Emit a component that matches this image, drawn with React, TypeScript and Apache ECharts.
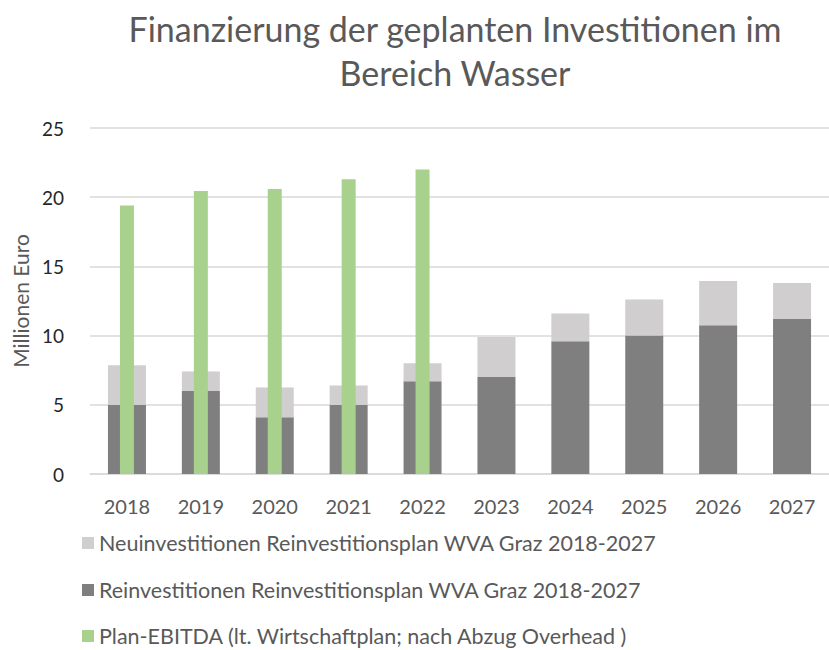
import React, { useEffect, useRef } from "react";
import * as echarts from "echarts";

const categories = ["2018", "2019", "2020", "2021", "2022", "2023", "2024", "2025", "2026", "2027"];
const reinvestitionen = [5.0, 6.0, 4.1, 5.0, 6.7, 7.0, 9.6, 10.0, 10.75, 11.2];
const neuinvestitionen = [2.85, 1.4, 2.15, 1.4, 1.3, 2.9, 2.0, 2.6, 3.2, 2.6];
const planEbitda: (number | null)[] = [19.4, 20.45, 20.6, 21.3, 22.0, null, null, null, null, null];

const seriesNames = [
  "Neuinvestitionen Reinvestitionsplan WVA Graz 2018-2027",
  "Reinvestitionen Reinvestitionsplan WVA Graz 2018-2027",
  "Plan-EBITDA (lt. Wirtschaftplan; nach Abzug Overhead )",
];

const FONT = "Lato, 'DejaVu Sans', sans-serif";
const legendTops = [531, 578, 624];

export default function App() {
  const ref = useRef<HTMLDivElement>(null);
  useEffect(() => {
    document.body.style.margin = "0";
    if (!ref.current) return;
    const chart = echarts.init(ref.current, null, { renderer: "svg" });
    chart.setOption({
      animation: false,
      backgroundColor: "#ffffff",
      title: {
        text: "Finanzierung der geplanten Investitionen im\nBereich Wasser",
        left: 450,
        textAlign: "center",
        top: 1,
        textStyle: {
          fontFamily: FONT,
          fontSize: 34,
          lineHeight: 44,
          fontWeight: "normal",
          color: "#595959",
        },
      },
      legend: seriesNames.map((name, i) => ({
        orient: "vertical",
        left: 82,
        top: legendTops[i],
        padding: 0,
        itemWidth: 12,
        itemHeight: 12,
        icon: "rect",
        data: [name],
        textStyle: {
          fontFamily: FONT,
          fontSize: 21.5,
          lineHeight: 24,
          color: "#595959",
        },
      })),
      grid: {
        left: 90,
        top: 128,
        width: 745,
        height: 346,
        containLabel: false,
      },
      xAxis: [
        {
          type: "category",
          data: categories,
          axisLine: { lineStyle: { color: "#d9d9d9", width: 1.5 } },
          axisTick: { show: false },
          axisLabel: {
            fontFamily: FONT,
            fontSize: 20,
            color: "#595959",
            margin: 22,
          },
        },
        {
          type: "category",
          data: categories,
          show: false,
        },
      ],
      yAxis: {
        type: "value",
        min: 0,
        max: 25,
        interval: 5,
        name: "Millionen Euro",
        nameLocation: "middle",
        nameGap: 58,
        nameTextStyle: {
          fontFamily: FONT,
          fontSize: 21,
          color: "#595959",
        },
        axisLine: { show: false },
        axisTick: { show: false },
        splitLine: { lineStyle: { color: "#d9d9d9", width: 1.5 } },
        axisLabel: {
          fontFamily: FONT,
          fontSize: 19,
          color: "#262626",
          margin: 26,
        },
      },
      series: [
        {
          name: seriesNames[1],
          type: "bar",
          stack: "invest",
          data: reinvestitionen,
          barWidth: 38,
          itemStyle: { color: "#7f7f7f" },
        },
        {
          name: seriesNames[0],
          type: "bar",
          stack: "invest",
          data: neuinvestitionen,
          barWidth: 38,
          itemStyle: { color: "#d0cece" },
        },
        {
          name: seriesNames[2],
          type: "bar",
          xAxisIndex: 1,
          data: planEbitda,
          barWidth: 14,
          itemStyle: { color: "#a9d18e" },
        },
      ],
    });
    return () => chart.dispose();
  }, []);
  return <div ref={ref} style={{ width: 829, height: 650 }} />;
}
